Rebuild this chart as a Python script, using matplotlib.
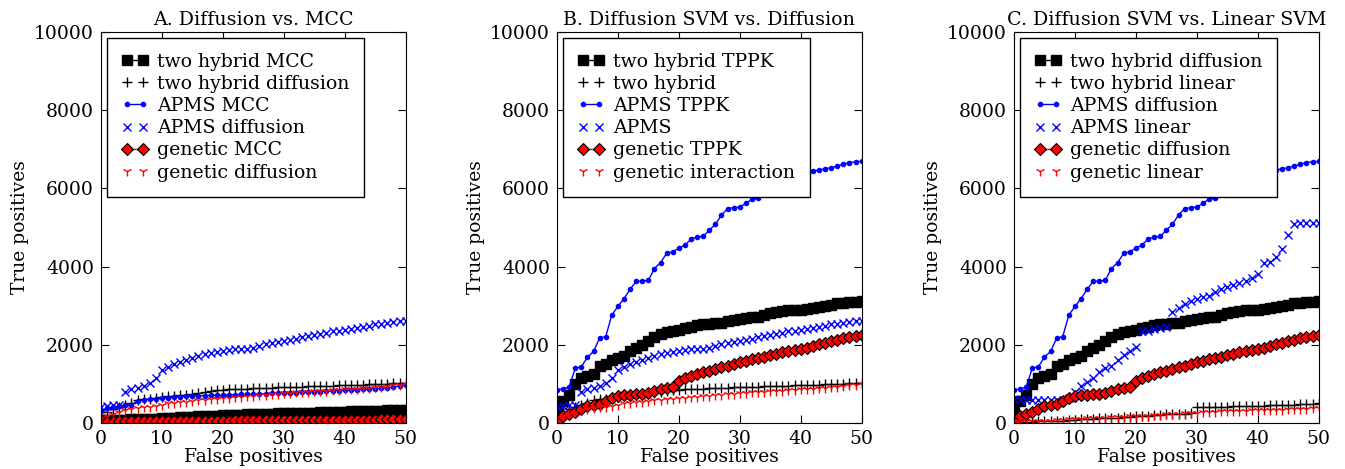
import matplotlib
matplotlib.use("Agg")
import matplotlib.pyplot as plt

plt.rcParams['font.family'] = ['DejaVu Serif']
plt.rcParams['font.size'] = 13.5

# false positive counts on the x axis
fp = list(range(51))

# panel A series
two_hybrid_mcc = [60, 70, 75, 80, 85, 90, 95, 100, 105, 110,
                  130, 135, 140, 150, 155, 160, 170, 175, 180, 190,
                  200, 205, 210, 215, 220, 225, 230, 235, 240, 245,
                  250, 255, 260, 262, 265, 268, 272, 275, 280, 285,
                  290, 295, 298, 300, 305, 310, 315, 320, 322, 326, 330]
two_hybrid_diffusion = [200, 280, 350, 400, 450, 520, 600, 610, 620, 640,
                        660, 680, 700, 710, 720, 740, 760, 800, 820, 840,
                        850, 860, 870, 875, 880, 890, 895, 900, 905, 910,
                        915, 920, 925, 930, 935, 940, 945, 950, 955, 960,
                        965, 970, 975, 980, 985, 990, 995, 1000, 1010, 1020, 1030]
apms_mcc = [300, 380, 420, 430, 450, 470, 570, 590, 610, 620,
            630, 650, 660, 670, 680, 690, 695, 700, 705, 710,
            715, 720, 725, 730, 735, 740, 745, 750, 755, 760,
            765, 770, 775, 780, 790, 800, 805, 810, 820, 830,
            840, 845, 850, 860, 870, 880, 890, 900, 920, 950, 980]
apms_diffusion = [420, 440, 450, 460, 800, 860, 900, 950, 1020, 1150,
                  1350, 1420, 1500, 1570, 1610, 1660, 1720, 1760, 1790, 1810,
                  1840, 1870, 1880, 1890, 1900, 1930, 1980, 2010, 2040, 2070,
                  2100, 2130, 2160, 2190, 2220, 2250, 2280, 2310, 2340, 2360,
                  2380, 2400, 2430, 2460, 2490, 2520, 2540, 2560, 2580, 2600, 2610]
genetic_mcc = [30, 35, 35, 40, 40, 40, 45, 45, 45, 50,
               50, 50, 50, 55, 55, 55, 55, 60, 60, 60,
               60, 60, 65, 65, 65, 65, 65, 70, 70, 70,
               70, 70, 75, 75, 75, 75, 75, 80, 80, 80,
               80, 80, 85, 85, 85, 85, 90, 90, 90, 90, 90]
genetic_diffusion = [120, 180, 230, 280, 320, 350, 380, 400, 420, 440,
                     460, 500, 520, 530, 540, 560, 580, 600, 610, 620,
                     640, 650, 660, 670, 690, 700, 710, 720, 730, 740,
                     760, 770, 780, 790, 800, 810, 820, 830, 840, 850,
                     860, 870, 880, 890, 900, 910, 920, 940, 960, 980, 1000]

# panel B series (TPPK = diffusion SVM)
two_hybrid_tppk = [300, 550, 720, 1000, 1150, 1200, 1250, 1450, 1500, 1600,
                   1650, 1720, 1850, 1920, 2000, 2100, 2200, 2280, 2320, 2350,
                   2380, 2420, 2460, 2500, 2520, 2540, 2550, 2570, 2600, 2640,
                   2660, 2690, 2700, 2720, 2760, 2820, 2850, 2870, 2880, 2890,
                   2900, 2920, 2940, 2960, 2990, 3020, 3060, 3080, 3100, 3100, 3110]
apms_tppk = [850, 870, 920, 1400, 1440, 1680, 1830, 2170, 2210, 2760,
             2980, 3180, 3420, 3620, 3630, 3650, 3950, 4100, 4340, 4380,
             4470, 4550, 4700, 4760, 4770, 4930, 5080, 5320, 5480, 5510,
             5520, 5620, 5720, 5750, 5900, 5980, 6050, 6120, 6180, 6240,
             6290, 6340, 6440, 6470, 6500, 6530, 6570, 6620, 6660, 6680, 6690]
genetic_tppk = [60, 190, 240, 280, 350, 440, 460, 480, 560, 640,
                690, 715, 720, 735, 740, 760, 810, 860, 900, 930,
                1070, 1160, 1200, 1250, 1300, 1340, 1390, 1430, 1470, 1510,
                1550, 1590, 1630, 1660, 1690, 1730, 1770, 1810, 1840, 1860,
                1890, 1930, 1970, 2010, 2050, 2090, 2130, 2170, 2200, 2230, 2250]

# panel C series (linear SVM)
two_hybrid_linear = [20, 25, 30, 35, 40, 45, 50, 55, 60, 70,
                     80, 90, 100, 110, 115, 120, 130, 140, 150, 160,
                     170, 180, 190, 200, 210, 220, 225, 235, 240, 250,
                     400, 405, 410, 415, 420, 420, 425, 430, 435, 440,
                     440, 445, 450, 455, 460, 465, 470, 480, 490, 495, 500]
apms_linear = [620, 600, 590, 590, 590, 590, 590, 590, 600, 650,
               800, 950, 1050, 1150, 1300, 1400, 1450, 1600, 1750, 1850,
               1950, 2350, 2360, 2400, 2420, 2450, 2850, 2950, 3050, 3120,
               3180, 3220, 3240, 3350, 3420, 3480, 3530, 3570, 3620, 3700,
               3800, 4080, 4130, 4250, 4450, 4800, 5100, 5120, 5120, 5120, 5120]
genetic_linear = [30, 35, 40, 45, 50, 55, 60, 70, 80, 90,
                  100, 110, 120, 125, 130, 140, 150, 155, 160, 170,
                  180, 185, 190, 200, 210, 220, 230, 240, 250, 255,
                  260, 270, 280, 290, 295, 300, 305, 310, 315, 320,
                  325, 330, 335, 340, 345, 350, 355, 360, 370, 380, 390]

titles = ["A. Diffusion vs. MCC",
          "B. Diffusion SVM vs. Diffusion",
          "C. Diffusion SVM vs. Linear SVM"]

panels = [
    [(two_hybrid_mcc, "two hybrid MCC"), (two_hybrid_diffusion, "two hybrid diffusion"),
     (apms_mcc, "APMS MCC"), (apms_diffusion, "APMS diffusion"),
     (genetic_mcc, "genetic MCC"), (genetic_diffusion, "genetic diffusion")],
    [(two_hybrid_tppk, "two hybrid TPPK"), (two_hybrid_diffusion, "two hybrid"),
     (apms_tppk, "APMS TPPK"), (apms_diffusion, "APMS"),
     (genetic_tppk, "genetic TPPK"), (genetic_diffusion, "genetic interaction")],
    [(two_hybrid_tppk, "two hybrid diffusion"), (two_hybrid_linear, "two hybrid linear"),
     (apms_tppk, "APMS diffusion"), (apms_linear, "APMS linear"),
     (genetic_tppk, "genetic diffusion"), (genetic_linear, "genetic linear")],
]

# one style per slot, same order in every panel
styles = [
    dict(color='k', marker='s', ms=7, lw=1),
    dict(color='k', marker='+', ms=7, ls='none', mew=1),
    dict(color='b', marker='.', ms=6, lw=1),
    dict(color='b', marker='x', ms=6, ls='none', mew=1),
    dict(color='r', marker='D', ms=6, lw=1, mec='k', mew=0.8),
    dict(color='r', marker='1', ms=7, ls='none', mew=1),
]

fig = plt.figure(figsize=(13.45, 4.69), dpi=100)
lefts = [0.0751, 0.4141, 0.7539]

for left, title, series in zip(lefts, titles, panels):
    ax = fig.add_axes([left, 0.0981, 0.2265, 0.8337])
    for (vals, label), st in zip(series, styles):
        ax.plot(fp, vals, label=label, **st)
    ax.set_xlim(0, 50)
    ax.set_ylim(0, 10000)
    ax.set_xticks([0, 10, 20, 30, 40, 50])
    ax.set_yticks([0, 2000, 4000, 6000, 8000, 10000])
    ax.tick_params(direction='in', top=True, right=True, length=6, pad=5)
    ax.set_title(title, fontsize=13.7, pad=5)
    ax.set_xlabel("False positives", labelpad=0)
    ax.set_ylabel("True positives")
    leg = ax.legend(loc='upper left', numpoints=2, fancybox=False, framealpha=1,
                    edgecolor='k', borderaxespad=0.3, borderpad=0.8,
                    labelspacing=0.22, handlelength=1.4, handletextpad=0.45,
                    fontsize=13.6)
    leg.get_frame().set_linewidth(1)

fig.savefig("out.png", dpi=100)
